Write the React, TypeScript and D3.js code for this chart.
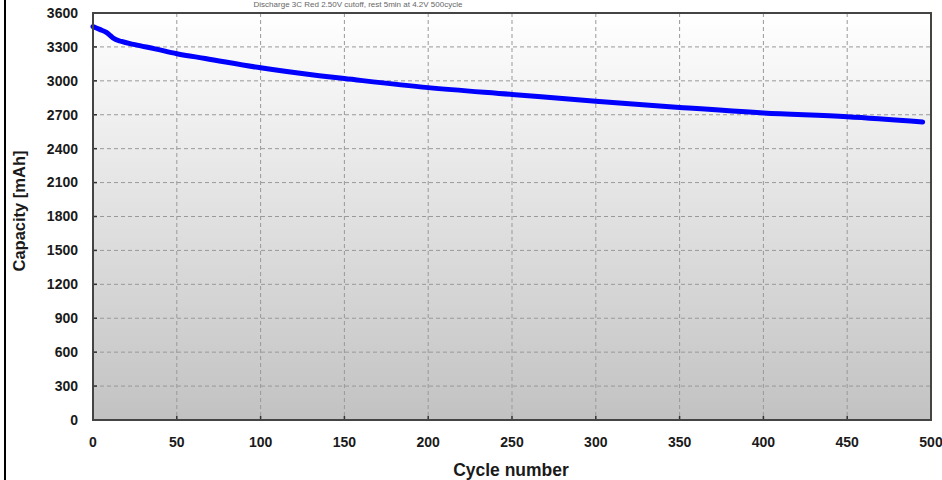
import React, { useEffect, useRef } from 'react';
import * as d3 from 'd3';

// Cycle life data
const cycles = [0, 4, 8, 10, 12, 17, 25, 37, 50, 67, 100, 135, 150, 200, 250, 300, 350, 400, 450, 495];
const capacity = [3480, 3455, 3428, 3405, 3378, 3348, 3320, 3283, 3240, 3198, 3115, 3045, 3020, 2940, 2880, 2820, 2765, 2716, 2682, 2636];
const xTicks = [0, 50, 100, 150, 200, 250, 300, 350, 400, 450, 500];
const yTicks = [0, 300, 600, 900, 1200, 1500, 1800, 2100, 2400, 2700, 3000, 3300, 3600];

const App: React.FC = () => {
  const svgRef = useRef<SVGSVGElement>(null);

  useEffect(() => {
    if (!svgRef.current) return;
    const svg = d3.select(svgRef.current);
    svg.selectAll("*").remove();

    const width = 942;
    const height = 480;
    const margin = { top: 13, right: 11, bottom: 60, left: 93 };
    const font = "Liberation Sans, Arial, sans-serif";

    const x = d3.scaleLinear().domain([0, 500]).range([margin.left, width - margin.right]);
    const y = d3.scaleLinear().domain([0, 3600]).range([height - margin.bottom, margin.top]);

    const defs = svg.append("defs");
    const grad = defs.append("linearGradient")
      .attr("id", "bgGrad")
      .attr("x1", "0").attr("y1", "0").attr("x2", "0").attr("y2", "1");
    grad.append("stop").attr("offset", "0%").attr("stop-color", "#ffffff");
    grad.append("stop").attr("offset", "100%").attr("stop-color", "#c2c2c2");

    // title strip at the very top (cut off in the source)
    svg.append("text")
      .attr("x", 358)
      .attr("y", 7)
      .attr("text-anchor", "middle")
      .attr("font-family", font)
      .attr("font-size", "8px")
      .attr("fill", "#666")
      .text("Discharge 3C  Red  2.50V cutoff, rest 5min at 4.2V 500cycle");

    // left border of the frame
    svg.append("line")
      .attr("x1", 5).attr("x2", 5).attr("y1", 0).attr("y2", height)
      .attr("stroke", "#000").attr("stroke-width", 2);

    svg.append("rect")
      .attr("x", x(0)).attr("y", y(3600))
      .attr("width", x(500) - x(0)).attr("height", y(0) - y(3600))
      .attr("fill", "url(#bgGrad)");

    // grid
    svg.append("g").selectAll("line")
      .data(xTicks.slice(1, -1))
      .enter().append("line")
      .attr("x1", d => x(d)).attr("x2", d => x(d))
      .attr("y1", y(3600)).attr("y2", y(0))
      .attr("stroke", "#999").attr("stroke-width", 1)
      .attr("stroke-dasharray", "4,3");
    svg.append("g").selectAll("line")
      .data(yTicks.slice(1, -1))
      .enter().append("line")
      .attr("x1", x(0)).attr("x2", x(500))
      .attr("y1", d => y(d)).attr("y2", d => y(d))
      .attr("stroke", "#999").attr("stroke-width", 1)
      .attr("stroke-dasharray", "4,3");

    // inner tick marks
    svg.append("g").selectAll("line")
      .data(xTicks)
      .enter().append("line")
      .attr("x1", d => x(d)).attr("x2", d => x(d))
      .attr("y1", y(0)).attr("y2", y(0) - 4)
      .attr("stroke", "#333").attr("stroke-width", 1.5);
    svg.append("g").selectAll("line")
      .data(yTicks)
      .enter().append("line")
      .attr("x1", x(0)).attr("x2", x(0) + 4)
      .attr("y1", d => y(d)).attr("y2", d => y(d))
      .attr("stroke", "#333").attr("stroke-width", 1.5);

    const data = cycles.map((c, i) => ({ c, v: capacity[i] }));
    const line = d3.line<{ c: number; v: number }>()
      .x(d => x(d.c))
      .y(d => y(d.v))
      .curve(d3.curveMonotoneX);

    svg.append("path")
      .datum(data)
      .attr("fill", "none")
      .attr("stroke", "#0000ff")
      .attr("stroke-width", 5)
      .attr("stroke-linecap", "round")
      .attr("d", line);

    // plot border
    svg.append("rect")
      .attr("x", x(0)).attr("y", y(3600))
      .attr("width", x(500) - x(0)).attr("height", y(0) - y(3600))
      .attr("fill", "none")
      .attr("stroke", "#444").attr("stroke-width", 2);

    // tick labels
    svg.append("g").selectAll("text")
      .data(yTicks)
      .enter().append("text")
      .attr("x", 78)
      .attr("y", d => y(d))
      .attr("dy", "0.35em")
      .attr("text-anchor", "end")
      .attr("font-family", font)
      .attr("font-weight", "bold")
      .attr("font-size", "14px")
      .attr("fill", "#1a1a1a")
      .text(d => d);

    svg.append("g").selectAll("text")
      .data(xTicks)
      .enter().append("text")
      .attr("x", d => x(d))
      .attr("y", 442)
      .attr("dy", "0.35em")
      .attr("text-anchor", "middle")
      .attr("font-family", font)
      .attr("font-weight", "bold")
      .attr("font-size", "14px")
      .attr("fill", "#1a1a1a")
      .text(d => d);

    // axis titles
    svg.append("text")
      .attr("x", 511)
      .attr("y", 470)
      .attr("dy", "0.35em")
      .attr("text-anchor", "middle")
      .attr("font-family", font)
      .attr("font-weight", "bold")
      .attr("font-size", "17.5px")
      .attr("fill", "#1a1a1a")
      .text("Cycle number");

    svg.append("text")
      .attr("transform", "translate(19,211) rotate(-90)")
      .attr("dy", "0.35em")
      .attr("text-anchor", "middle")
      .attr("font-family", font)
      .attr("font-weight", "bold")
      .attr("font-size", "16.5px")
      .attr("fill", "#1a1a1a")
      .text("Capacity [mAh]");
  }, []);

  return (
    <svg
      ref={svgRef}
      width={942}
      height={480}
      viewBox="0 0 942 480"
      style={{ position: 'absolute', left: 0, top: 0, background: '#fff' }}
    />
  );
};

export default App;
